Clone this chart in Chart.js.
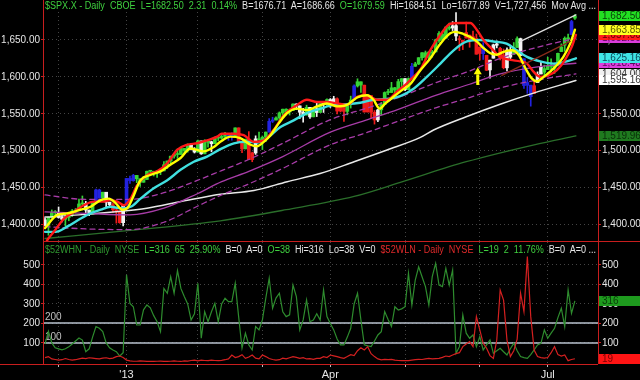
<!DOCTYPE html>
<html><head><meta charset="utf-8">
<script src="https://cdn.jsdelivr.net/npm/chart.js@4/dist/chart.umd.min.js"></script>
<style>
html,body{margin:0;padding:0;background:#000;}
#wrap{position:relative;width:640px;height:380px;background:#000;overflow:hidden;}
canvas{position:absolute;left:0;}
#c1{top:0;}
#c2{top:241px;}
.hdr{position:absolute;left:45px;white-space:nowrap;font:10px "Liberation Sans",Arial,sans-serif;line-height:12px;transform-origin:0 0;}
.g{color:#3fd03f}.w{color:#e6e6e6}.dg{color:#2f9a2f}.r{color:#e02a2a}
</style></head><body>
<div id="wrap">
<canvas id="c1" width="640" height="241"></canvas>
<canvas id="c2" width="640" height="139"></canvas>
<div class="hdr" id="h1" style="top:0px"><span class="g">$SPX.X - Daily&nbsp; CBOE&nbsp; L=1682.50&nbsp; 2.31&nbsp; 0.14%</span>&nbsp; <span class="w">B=1676.71&nbsp; A=1686.66</span>&nbsp; <span class="g">O=1679.59</span>&nbsp; <span class="w">Hi=1684.51&nbsp; Lo=1677.89&nbsp; V=1,727,456&nbsp; Mov Avg ...</span></div>
<div class="hdr" id="h2" style="top:244px"><span class="dg">$52WHN - Daily&nbsp; NYSE</span>&nbsp; <span class="g">L=316&nbsp; 65&nbsp; 25.90%</span>&nbsp; <span class="w">B=0&nbsp; A=0</span>&nbsp; <span class="g">O=38</span>&nbsp; <span class="w">Hi=316&nbsp; Lo=38&nbsp; V=0</span>&nbsp; <span class="r">$52WLN - Daily&nbsp; NYSE</span>&nbsp; <span class="g">L=19&nbsp; 2&nbsp; 11.76%</span>&nbsp; <span class="w">B=0&nbsp; A=0 ...</span></div>
</div>
<script>
// ---------- DATA (x = trading-day index, 0 = 27 Nov 2012 ... 156 = 12 Jul 2013) ----------
const opens = [
1406.3,1398.8,1409.9,1416.0,1416.3,1409.5,1407.1,1409.4,1413.9,1418.1,
1418.6,1427.8,1428.5,1419.5,1413.5,1430.5,1446.8,1435.8,1443.7,1430.2,
1426.7,1419.8,1418.1,1402.4,1426.2,1462.4,1459.4,1466.5,1461.9,1457.2,
1461.0,1472.1,1472.1,1470.7,1472.3,1472.6,1480.9,1486.0,1492.6,1494.8,
1494.8,1503.0,1500.2,1507.8,1502.0,1498.1,1513.2,1495.7,1511.3,1512.1,
1509.4,1517.9,1517.0,1519.4,1520.3,1521.4,1519.8,1530.9,1512.0,1502.4,
1515.6,1487.9,1496.9,1516.0,1514.7,1518.2,1525.2,1539.8,1541.5,1544.3,
1551.2,1556.2,1552.5,1554.5,1563.2,1560.7,1552.1,1548.3,1558.7,1545.8,
1556.9,1551.7,1563.8,1562.9,1569.2,1562.2,1570.3,1553.7,1560.0,1553.3,
1563.1,1568.6,1587.7,1593.3,1588.8,1552.4,1574.6,1552.0,1541.6,1555.3,
1562.5,1578.8,1578.8,1585.2,1582.3,1593.6,1597.6,1582.8,1597.6,1614.4,
1617.5,1626.0,1632.7,1626.7,1632.1,1633.8,1649.1,1658.1,1652.5,1665.7,
1666.2,1669.4,1651.6,1646.7,1652.6,1656.6,1649.1,1652.1,1631.7,1640.7,
1629.1,1609.4,1625.3,1644.7,1638.6,1629.9,1612.2,1635.5,1630.6,1639.8,
1651.8,1624.6,1588.6,1588.8,1577.5,1592.3,1603.9,1611.1,1609.8,1614.3,
1611.5,1618.7,1634.2,1642.9,1651.6,1657.4,1679.6];
const highs = [
1409.0,1410.0,1419.7,1418.9,1423.7,1413.1,1415.6,1413.9,1420.3,1421.6,
1434.3,1438.6,1431.4,1419.5,1430.7,1448.0,1447.8,1443.7,1443.7,1430.2,
1429.4,1422.8,1418.1,1426.7,1462.4,1465.5,1467.9,1466.5,1461.9,1464.7,
1472.3,1472.8,1472.1,1473.3,1473.0,1485.2,1486.0,1492.6,1496.1,1502.3,
1503.3,1503.2,1509.3,1509.9,1504.2,1514.4,1513.2,1514.8,1512.5,1512.9,
1518.3,1518.3,1522.3,1524.7,1523.1,1524.2,1530.9,1530.9,1512.0,1515.6,
1525.8,1498.0,1520.1,1525.3,1519.9,1525.3,1543.5,1545.3,1545.8,1552.5,
1556.3,1556.8,1556.4,1563.3,1563.6,1560.7,1557.3,1561.6,1558.7,1557.7,
1564.9,1563.9,1564.1,1570.3,1570.6,1573.7,1571.5,1562.6,1560.0,1563.1,
1573.9,1589.1,1597.4,1593.3,1588.8,1575.4,1574.6,1554.4,1555.9,1565.6,
1579.6,1583.0,1592.6,1585.8,1596.7,1597.6,1597.6,1598.6,1618.5,1619.8,
1626.0,1633.0,1635.0,1633.7,1636.0,1651.1,1661.5,1660.5,1667.5,1672.8,
1674.9,1687.2,1655.5,1649.8,1674.2,1656.6,1661.9,1658.0,1640.4,1646.5,
1629.3,1622.6,1644.4,1648.7,1640.1,1637.7,1639.3,1640.8,1646.5,1654.2,
1652.5,1624.6,1599.2,1588.8,1593.8,1606.8,1620.1,1615.9,1626.6,1624.3,
1618.5,1632.1,1644.7,1654.2,1657.9,1676.6,1684.5];
const lows = [
1398.0,1385.4,1409.0,1411.6,1408.5,1403.6,1398.2,1405.0,1410.9,1415.6,
1418.6,1426.8,1416.0,1411.9,1413.5,1430.5,1435.8,1432.8,1422.6,1424.7,
1416.4,1401.8,1401.6,1398.1,1426.2,1455.5,1458.6,1456.6,1451.6,1457.2,
1461.0,1467.6,1465.7,1463.8,1467.5,1472.6,1475.9,1481.2,1489.9,1489.5,
1494.8,1496.3,1498.0,1501.0,1496.8,1498.1,1495.0,1495.7,1504.7,1498.5,
1509.4,1513.6,1515.6,1515.9,1514.0,1514.1,1519.8,1511.4,1497.3,1502.4,
1487.8,1485.0,1494.9,1514.5,1501.5,1512.3,1525.2,1538.1,1541.5,1540.4,
1547.4,1548.2,1548.3,1554.5,1555.7,1543.5,1538.6,1548.3,1543.6,1545.8,
1546.2,1551.7,1551.8,1561.1,1558.5,1562.2,1549.8,1552.5,1539.5,1548.6,
1557.7,1568.6,1586.2,1579.0,1552.3,1552.4,1543.7,1536.0,1539.4,1548.2,
1562.5,1575.8,1578.8,1577.6,1582.3,1586.5,1581.3,1582.8,1597.6,1614.2,
1616.6,1622.7,1623.6,1623.7,1626.7,1633.8,1646.7,1648.6,1652.5,1663.5,
1662.7,1648.9,1635.5,1636.9,1652.6,1640.1,1648.6,1630.7,1622.7,1623.6,
1608.4,1598.2,1625.3,1639.3,1622.9,1610.9,1608.1,1623.6,1630.3,1639.8,
1628.9,1584.3,1577.7,1560.3,1577.1,1592.3,1603.9,1601.1,1609.8,1606.8,
1604.6,1615.0,1634.2,1634.6,1647.7,1657.4,1677.9];
const closes = [
1398.9,1409.9,1416.0,1416.2,1409.5,1407.1,1409.3,1413.9,1418.1,1418.6,
1427.8,1428.5,1419.5,1413.6,1430.4,1446.8,1435.8,1443.7,1430.2,1426.7,
1419.8,1418.1,1402.4,1426.2,1462.4,1459.4,1466.5,1461.9,1457.2,1461.0,
1472.1,1472.1,1470.7,1472.3,1472.6,1480.9,1486.0,1492.6,1494.8,1494.8,
1503.0,1500.2,1507.8,1502.0,1498.1,1513.2,1495.7,1511.3,1512.1,1509.4,
1517.9,1517.0,1519.4,1520.3,1521.4,1519.8,1530.9,1512.0,1502.4,1515.6,
1487.9,1496.9,1516.0,1514.7,1518.2,1525.2,1539.8,1541.5,1544.3,1551.2,
1556.2,1552.5,1554.5,1563.2,1560.7,1552.1,1548.3,1558.7,1545.8,1556.9,
1551.7,1563.8,1562.9,1569.2,1562.2,1570.3,1553.7,1560.0,1553.3,1563.1,
1568.6,1587.7,1593.4,1588.9,1552.4,1574.6,1552.0,1541.6,1555.3,1562.5,
1578.8,1578.8,1585.2,1582.2,1593.6,1597.6,1582.7,1597.6,1614.4,1617.5,
1626.0,1632.7,1626.7,1633.7,1633.8,1650.3,1658.8,1650.5,1667.5,1666.3,
1669.2,1655.4,1650.5,1649.6,1660.1,1648.4,1654.4,1630.7,1640.4,1631.4,
1608.9,1622.6,1643.4,1642.8,1626.1,1612.5,1636.4,1626.7,1639.0,1651.8,
1628.9,1588.2,1592.4,1573.1,1588.0,1603.3,1613.2,1606.3,1615.0,1614.1,
1615.4,1631.9,1640.5,1652.3,1652.6,1675.0,1682.5];
// impulse state of each candle: g = up, r = down, b = neutral, w = plain
const impulse = (
"wgggwwgggg"+"ggwwgbbgww"+"rrrwbbbggg"+"gggggggggg"+"gggwwgwggw"+
"ggggbbgrrg"+"rrwgggbbgg"+"ggggwwwgwg"+"wgwgwwrrrg"+"gbggrrrrwg"+
"ggggggwgbg"+"gggggggggg"+"wwrrrrrrrb"+"rwwwrrwwgg"+"wbbbrwwggg"+"gggggbg").split('');

// moving averages as [day index, value]
const maFast5  = [[0,1395],[3.6,1413],[6.5,1415],[10.5,1420],[13.4,1424],[16.4,1433],[18.8,1435],[20.8,1429],[22.7,1420],[24.2,1422],[25.7,1435],[28.1,1460],[31,1467],[34,1472],[36.9,1481],[39.9,1490],[42.8,1503],[44.8,1501],[46.7,1499],[49.7,1505],[51.6,1512],[54.6,1519],[57.5,1517],[60.5,1508],[62.4,1506],[64.4,1512],[66.4,1521],[68.8,1537],[71.3,1551],[74.2,1557],[77.1,1555],[80.1,1560],[83,1564],[86,1560],[88.9,1562],[91.9,1572],[94.8,1575],[96.7,1569],[98.5,1557],[100.2,1564],[102.6,1573],[105.1,1582],[107.5,1590],[110.5,1609],[113.4,1625],[116.4,1645],[119.3,1659],[120.8,1661],[123.2,1658],[125.2,1654],[127.1,1648],[129.1,1639],[131.1,1632],[133,1630],[135,1634],[137.4,1636],[139.4,1630],[141.4,1612],[143.3,1598],[144.8,1594],[146.8,1600],[148.7,1607],[150.7,1616],[152.6,1627],[154.6,1645],[156,1663.85]];
const maFast10 = [[0,1372],[0.7,1379],[2.6,1390],[5.6,1408],[8.5,1417],[11.4,1426],[14.4,1431],[17.3,1431],[19.3,1433],[21.3,1431],[23.2,1426],[25.2,1435],[27.1,1453],[30.1,1467],[33,1472],[36,1483],[38.9,1501],[41.8,1508],[44.8,1510],[47.7,1514],[50.7,1519],[52,1523],[55.6,1523],[58.5,1521],[61.5,1512],[64.4,1514],[67.3,1528],[70.3,1548],[74.2,1562],[77.1,1569],[80.1,1566],[83,1566],[86,1564],[88.9,1562],[91.9,1573],[94.8,1575],[97.7,1569],[100.7,1569],[103.6,1580],[106.5,1591],[108,1598],[110.5,1610],[113.4,1636],[116.4,1657],[119.3,1672],[122.2,1673],[125.2,1673],[127.1,1664],[129.1,1650],[132,1636],[134,1627],[137,1623],[139.9,1621],[141.9,1618],[143.8,1607],[145.8,1600],[148.2,1602],[150.7,1609],[153.1,1623],[155.1,1641],[156.3,1657]];
const ma20  = [[0,1390],[3.1,1390],[6.5,1397],[10.5,1408],[13.4,1415],[16.4,1420],[19.3,1424],[22.2,1422],[25.2,1424],[28.1,1435],[32,1449],[36,1460],[39.9,1474],[43.8,1485],[47.7,1492],[51.6,1502],[55.6,1510],[59.5,1512],[62.4,1511],[65.4,1517],[69.3,1532],[73.2,1541],[77.1,1551],[81.1,1557],[85,1562],[88.9,1563],[92.8,1565],[96.7,1569],[100.7,1570],[104.6,1574],[108.5,1584],[112.4,1600],[116.4,1618],[120.3,1636],[124.2,1648],[128.1,1650],[132,1648],[135.9,1645],[138.9,1636],[141.9,1627],[145.8,1621],[149.7,1618],[153.6,1621],[156.3,1625.16]];
const env50Up = [[0,1440],[12,1434],[25,1434],[35,1443],[45,1460],[52,1473],[60,1488],[70,1510],[84,1542],[95,1558],[104,1572],[115,1592],[125,1608],[134,1625],[144,1639],[156.3,1652.5]];
const ma50    = [[0,1417],[12,1415],[25,1413],[35,1422],[45,1442],[52,1458],[60,1472],[70,1492],[84,1525],[95,1542],[104,1556],[115,1575],[125,1590],[134,1604],[144,1613],[156.3,1618.48]];
const env50Lo = [[0,1397],[12,1394],[25,1393],[35,1403],[45,1425],[52,1440],[60,1455],[70,1476],[84,1508],[95,1525],[104,1540],[115,1558],[125,1572],[134,1585],[144,1595],[156.3,1604]];
const ma100 = [[0,1410],[10,1413],[20,1417],[30,1422],[40,1431],[51.6,1441],[61.5,1446],[71.3,1458],[81,1469],[91,1485],[100.7,1501],[110.5,1518],[114.4,1528],[124,1546],[134,1563],[143.8,1578],[156.3,1595.16]];
const ma200 = [[0,1381],[25,1392],[51.6,1405],[71,1420],[91,1438],[104.6,1457],[124,1485],[144,1508],[156.3,1519.96]];
// drawn trendlines and the up-arrow mark [day, from, to]
const trendWhite = [[139.5,1647],[156.3,1684]];
const trendBrown = [[134.5,1602],[154.6,1648]];
const arrowMark = [127.4, 1589, 1613];

// NYSE new 52-week highs / lows
const newHighs = [
95,160,100,75,70,65,70,80,95,110, 125,115,55,70,130,184,175,158,100,75,
64,55,33,50,449,303,286,192,192,270, 295,280,240,209,158,380,355,440,355,471,
380,338,300,218,250,406,124,261,209,260, 303,209,300,329,312,312,406,235,73,150,
90,64,184,167,218,330,432,278,330,355, 260,235,244,397,338,167,218,320,209,218,
250,218,372,235,200,167,120,90,90,130, 175,300,355,218,90,85,81,110,141,158,
261,220,184,286,269,275,286,457,295,423, 491,440,389,295,440,508,397,389,483,397,
474,47,81,244,150,124,141,81,132,64, 90,115,47,60,73,55,38,70,98,60,
30,25,21,40,64,90,98,167,124,150, 175,230,278,184,372,252,316];
const newLows = [
25,30,18,15,12,14,20,15,12,14, 18,22,20,24,22,20,18,22,24,20,
22,30,33,25,12,8,6,6,8,7, 5,6,5,6,7,5,5,6,8,6,
5,8,7,10,12,8,12,10,9,12, 10,9,11,14,18,38,25,30,40,21,
28,38,22,18,38,30,20,15,12,14, 22,18,24,30,26,21,25,18,20,16,
21,21,30,25,38,34,30,25,21,30, 40,35,60,75,64,81,45,30,18,13,
16,14,16,12,10,9,10,9,12,14, 16,15,18,21,18,20,21,26,33,30,
38,45,50,81,95,107,81,235,167,98, 73,35,21,115,372,320,115,30,60,120,
355,261,543,235,64,30,25,22,25,50, 81,40,33,38,9,15,19];

const monthTicks  = [4,24,45,64,84,106,128,148];
const monthLabels = ['',"'13",'','','Apr','','','Jul'];
const priceTicks  = [1400,1450,1500,1550,1600,1650];
const breadthTicks = [100,200,300,400,500];
const breadthRefs  = [200,100];

// ---------- RENDER ----------
Chart.defaults.font.family = '"Liberation Sans", Arial, sans-serif';
Chart.defaults.font.size = 10;
const X_MIN = -0.3, X_MAX = 162.8;
const RED = '#c81e1e', GRID = '#444444', TXT = '#e6e6e6';
const impulseColor = {g:'#36d436', r:'#ee1c1c', b:'#2222e0', w:'#f2f2f2'};
const xy = pts => pts.map(([x,y]) => ({x, y}));
const last = a => { const v = a[a.length-1]; return Array.isArray(v) ? v[1] : v; };
const fmt2 = v => Number(v).toLocaleString('en-US',{minimumFractionDigits:2, maximumFractionDigits:2});
const zeroPad = s => { s.paddingTop = 0; s.paddingBottom = 0; s.paddingLeft = 0; s.paddingRight = 0; };
const idx = closes.map((_, i) => i);
const candleCol = impulse.map(k => impulseColor[k]);

function lineDs(pts, color, width, order, dash) {
  return {type:'line', data: xy(pts), borderColor: color, borderWidth: width, pointRadius: 0,
          cubicInterpolationMode:'monotone', borderDash: dash || [], order, fill:false, borderCapStyle:'round'};
}

function box(ctx, area, scale, value, text, bg, fg, W) {
  const y = scale.getPixelForValue(value);
  ctx.fillStyle = bg;
  ctx.fillRect(area.right + 1, Math.round(y - 5), W - area.right - 1, 10);
  ctx.fillStyle = fg;
  ctx.font = '10px "Liberation Sans", Arial, sans-serif';
  ctx.textBaseline = 'middle'; ctx.textAlign = 'left';
  ctx.fillText(text, area.right + 4, Math.round(y) + 0.5);
}

const topDeco = {
  id: 'topDeco',
  afterDatasetsDraw(chart) {
    const {ctx, scales:{x, y}} = chart;
    const ax = x.getPixelForValue(arrowMark[0]);
    const yT = y.getPixelForValue(arrowMark[2]), yB = y.getPixelForValue(arrowMark[1]);
    ctx.save();
    ctx.fillStyle = '#ffff00';
    ctx.beginPath(); ctx.moveTo(ax, yT); ctx.lineTo(ax + 4, yT + 7); ctx.lineTo(ax - 4, yT + 7); ctx.closePath(); ctx.fill();
    ctx.fillRect(ax - 1.5, yT + 7, 3, yB - yT - 7);
    ctx.restore();
  },
  afterDraw(chart) {
    const {ctx, chartArea:a, scales:{y}} = chart;
    const W = chart.width, H = chart.height;
    ctx.save();
    ctx.strokeStyle = RED; ctx.lineWidth = 1;
    ctx.beginPath();
    ctx.moveTo(a.left - 0.5, 0); ctx.lineTo(a.left - 0.5, H);
    ctx.moveTo(a.right + 0.5, 0); ctx.lineTo(a.right + 0.5, H);
    ctx.stroke();
    const boxes = [
      [last(env50Lo), '#f0f0f0', '#333'],
      [last(ma100), '#ffffff', '#333'],
      [last(ma200), '#1f7a1f', '#0a2e0a'],
      [last(ma50), '#dc3cdc', '#5a0a5a'],
      [last(ma20), '#40e6e6', '#0b4a5a'],
      [last(env50Up), '#dc3cdc', '#5a0a5a'],
      [last(maFast10), '#ff1a1a', '#600000'],
      [last(maFast5), '#ffff22', '#5a5a00'],
      [last(closes), '#22e022', '#0a400a'],
    ];
    boxes.forEach(([v, bg, fg]) => box(ctx, a, y, v, fmt2(v), bg, fg, W));
    ctx.restore();
  }
};

new Chart(document.getElementById('c1'), {
  type: 'bar',
  data: { datasets: [
    lineDs(trendWhite, '#e0e0e0', 1.3, 2),
    lineDs(trendBrown, '#8a2a1a', 1.3, 3),
    lineDs(maFast5, '#ffff00', 2.4, 4),
    lineDs(maFast10, '#ff1a1a', 2.4, 5),
    lineDs(ma20, '#40e0e0', 2.4, 6),
    lineDs(env50Up, '#a83ca8', 1.3, 7, [5,4]),
    lineDs(ma50, '#a83ca8', 1.3, 8),
    lineDs(env50Lo, '#a83ca8', 1.3, 9, [5,4]),
    lineDs(ma100, '#e8e8e8', 1.5, 10),
    lineDs(ma200, '#2a6e2a', 1.3, 11),
    {type:'bar', data: idx.map(i => ({x:i, y:[opens[i], closes[i]]})), backgroundColor: candleCol,
     barThickness: 3, grouped: false, minBarLength: 1, borderWidth: 0, order: 20},
    {type:'bar', data: idx.map(i => ({x:i, y:[lows[i], highs[i]]})), backgroundColor: candleCol,
     barThickness: 1, grouped: false, borderWidth: 0, order: 21},
  ]},
  options: {
    responsive: false, animation: false, events: [],
    layout: {padding: {top: 12, left: 0, right: 0, bottom: 0}},
    plugins: {legend: {display: false}, tooltip: {enabled: false}},
    scales: {
      x: {type: 'linear', min: X_MIN, max: X_MAX, offset: false,
          afterBuildTicks: s => { s.ticks = monthTicks.map(v => ({value: v})); },
          ticks: {display: false},
          grid: {color: GRID, drawTicks: false, offset: false},
          border: {display: false, dash: [1, 3]},
          afterFit: s => { s.height = 0; zeroPad(s); }},
      y: {position: 'left', min: 1377.6, max: 1687.9,
          afterBuildTicks: s => { s.ticks = priceTicks.map(v => ({value: v})); },
          ticks: {color: TXT, padding: 1, callback: fmt2},
          grid: {color: GRID, tickColor: RED, tickLength: 3, tickBorderDash: []},
          border: {display: false, dash: [1, 3]},
          afterFit: s => { s.width = 44; zeroPad(s); }},
      y2: {position: 'right', min: 1377.6, max: 1687.9,
          afterBuildTicks: s => { s.ticks = priceTicks.map(v => ({value: v})); },
          ticks: {color: TXT, padding: 1, callback: fmt2},
          grid: {drawOnChartArea: false, tickColor: RED, tickLength: 3},
          border: {display: false},
          afterFit: s => { s.width = 42; zeroPad(s); }}
    }
  },
  plugins: [topDeco]
});

const botDeco = {
  id: 'botDeco',
  beforeDatasetsDraw(chart) {
    const {ctx, chartArea:a, scales:{y}} = chart;
    ctx.save();
    breadthRefs.forEach(v => {
      const py = Math.round(y.getPixelForValue(v));
      ctx.strokeStyle = '#b8c2ce'; ctx.lineWidth = 1.6;
      ctx.beginPath(); ctx.moveTo(a.left, py); ctx.lineTo(a.right, py); ctx.stroke();
      ctx.fillStyle = '#c0c0c0'; ctx.font = '10px "Liberation Sans", Arial, sans-serif';
      ctx.textBaseline = 'bottom'; ctx.textAlign = 'left';
      ctx.fillText(String(v), a.left + 1, py - 1);
    });
    ctx.restore();
  },
  afterDraw(chart) {
    const {ctx, chartArea:a, scales:{y}} = chart;
    const W = chart.width;
    ctx.save();
    ctx.strokeStyle = RED; ctx.lineWidth = 1;
    ctx.beginPath();
    ctx.moveTo(a.left - 0.5, 0); ctx.lineTo(a.left - 0.5, a.bottom);
    ctx.moveTo(a.right + 0.5, 0); ctx.lineTo(a.right + 0.5, a.bottom);
    ctx.moveTo(a.left, 0.5); ctx.lineTo(W, 0.5);
    ctx.moveTo(0, a.bottom + 0.5); ctx.lineTo(a.right, a.bottom + 0.5);
    ctx.stroke();
    box(ctx, a, y, last(newHighs), String(last(newHighs)), '#1e9a1e', '#0a3a0a', W);
    box(ctx, a, y, last(newLows), String(last(newLows)), '#ff1414', '#7a0000', W);
    ctx.restore();
  }
};

new Chart(document.getElementById('c2'), {
  type: 'line',
  data: { datasets: [
    {data: newHighs.map((v, i) => ({x: i, y: v})), borderColor: '#2e8c2e', borderWidth: 1.2, pointRadius: 0, tension: 0, order: 2},
    {data: newLows.map((v, i) => ({x: i, y: v})), borderColor: '#d42020', borderWidth: 1.2, pointRadius: 0, tension: 0, order: 1},
  ]},
  options: {
    responsive: false, animation: false, events: [],
    layout: {padding: {top: 1, left: 0, right: 0, bottom: 0}},
    plugins: {legend: {display: false}, tooltip: {enabled: false}},
    scales: {
      x: {type: 'linear', min: X_MIN, max: X_MAX,
          afterBuildTicks: s => { s.ticks = monthTicks.map(v => ({value: v})); },
          ticks: {color: TXT, font: {size: 11}, padding: 1, maxRotation: 0, autoSkip: false,
                  callback: v => monthLabels[monthTicks.indexOf(v)] || ''},
          grid: {color: GRID, tickColor: '#bbbbbb', tickLength: 3, tickBorderDash: [], offset: false},
          border: {display: false, dash: [1, 3]},
          afterFit: s => { s.height = 16; zeroPad(s); }},
      y: {position: 'left', min: -8, max: 618,
          afterBuildTicks: s => { s.ticks = breadthTicks.map(v => ({value: v})); },
          ticks: {color: TXT, padding: 1},
          grid: {color: GRID, tickColor: RED, tickLength: 3, tickBorderDash: []},
          border: {display: false, dash: [1, 3]},
          afterFit: s => { s.width = 44; zeroPad(s); }},
      y2: {position: 'right', min: -8, max: 618,
          afterBuildTicks: s => { s.ticks = breadthTicks.map(v => ({value: v})); },
          ticks: {color: TXT, padding: 1},
          grid: {drawOnChartArea: false, tickColor: RED, tickLength: 3},
          border: {display: false},
          afterFit: s => { s.width = 42; zeroPad(s); }}
    }
  },
  plugins: [botDeco]
});

// fit the header lines to the plot width
['h1','h2'].forEach(id => {
  const el = document.getElementById(id);
  const w = el.getBoundingClientRect().width;
  el.style.transform = 'scaleX(' + (551 / w) + ')';
});
</script>
</body></html>
